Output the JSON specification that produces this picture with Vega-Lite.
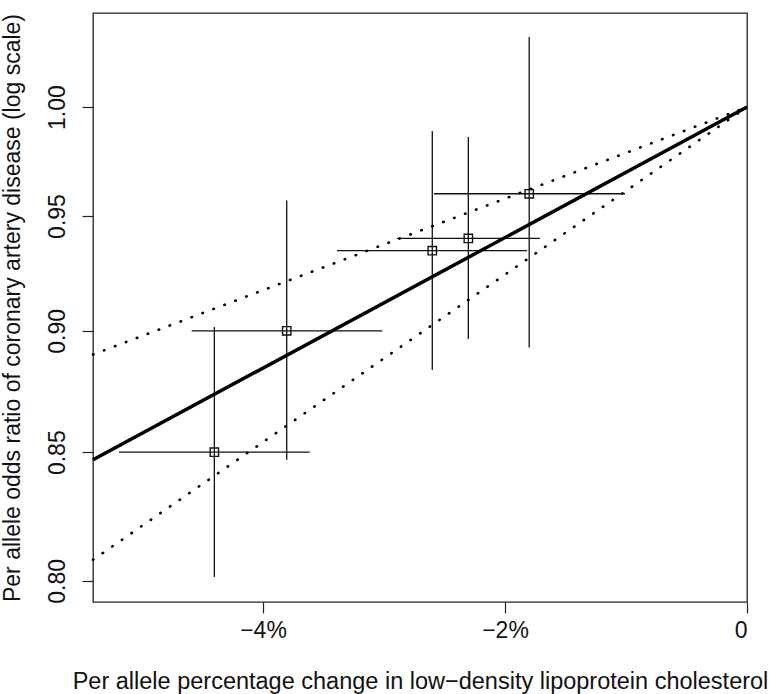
{
  "$schema": "https://vega.github.io/schema/vega-lite/v6.json",
  "width": 654,
  "height": 589,
  "autosize": "none",
  "padding": {"left": 93, "top": 13, "right": 25, "bottom": 92},
  "background": "white",
  "config": {
    "font": "Liberation Sans",
    "view": {"stroke": "#222", "strokeWidth": 1.3},
    "axis": {"grid": false, "domain": false, "tickColor": "#222", "tickWidth": 1.2, "tickSize": 11, "labelColor": "#111", "titleColor": "#111", "labelFont": "Liberation Sans", "titleFont": "Liberation Sans", "titleFontWeight": "normal"}
  },
  "datasets": {
    "studies": [
      {"x": -1.80, "xlo": -2.587, "xhi": -1.008, "or": 0.960, "orlo": 0.893, "orhi": 1.0335},
      {"x": -2.303, "xlo": -2.893, "xhi": -1.711, "or": 0.940, "orlo": 0.8965, "orhi": 0.986},
      {"x": -2.601, "xlo": -3.388, "xhi": -1.818, "or": 0.9346, "orlo": 0.8835, "orhi": 0.9888},
      {"x": -3.804, "xlo": -4.589, "xhi": -3.014, "or": 0.900, "orlo": 0.847, "orhi": 0.957},
      {"x": -4.402, "xlo": -5.19, "xhi": -3.614, "or": 0.850, "orlo": 0.8015, "orhi": 0.9016}
    ],
    "fit": [
      {"x": -5.405, "y": 0.847, "line": "estimate"},
      {"x": 0, "y": 1.0, "line": "estimate"},
      {"x": -5.405, "y": 0.890, "line": "upper"},
      {"x": 0, "y": 1.0, "line": "upper"},
      {"x": -5.405, "y": 0.808, "line": "lower"},
      {"x": 0, "y": 1.0, "line": "lower"}
    ]
  },
  "layer": [
    {
      "mark": {"type": "rule", "color": "#222", "strokeWidth": 1.3},
      "encoding": {"y": {"datum": 1, "type": "quantitative", "scale": {"type": "log"}}}
    },
    {
      "data": {"name": "studies"},
      "mark": {"type": "rule", "color": "#111", "strokeWidth": 1.3},
      "encoding": {
        "x": {"field": "xlo", "type": "quantitative"},
        "x2": {"field": "xhi"},
        "y": {"field": "or", "type": "quantitative"}
      }
    },
    {
      "data": {"name": "studies"},
      "mark": {"type": "rule", "color": "#111", "strokeWidth": 1.3},
      "encoding": {
        "x": {"field": "x", "type": "quantitative"},
        "y": {"field": "orlo", "type": "quantitative"},
        "y2": {"field": "orhi"}
      }
    },
    {
      "data": {"name": "fit"},
      "transform": [{"filter": "datum.line == 'estimate'"}],
      "mark": {"type": "line", "color": "#000", "strokeWidth": 3.5},
      "encoding": {
        "x": {"field": "x", "type": "quantitative"},
        "y": {"field": "y", "type": "quantitative"}
      }
    },
    {
      "data": {"name": "fit"},
      "transform": [{"filter": "datum.line != 'estimate'"}],
      "mark": {"type": "line", "color": "#000", "strokeWidth": 2.6, "strokeDash": [0.5, 11.2], "strokeCap": "round"},
      "encoding": {
        "x": {"field": "x", "type": "quantitative"},
        "y": {"field": "y", "type": "quantitative"},
        "detail": {"field": "line"}
      }
    },
    {
      "data": {"name": "studies"},
      "mark": {"type": "point", "shape": "square", "size": 70, "filled": false, "stroke": "#111", "strokeWidth": 1.4, "opacity": 1},
      "encoding": {
        "x": {
          "field": "x", "type": "quantitative",
          "scale": {"domain": [-5.405, 0], "nice": false, "zero": false},
          "axis": {
            "values": [-4, -2, 0],
            "labelExpr": "datum.value == 0 ? '0' : '\u2212' + abs(datum.value) + '%'",
            "labelFontSize": 23,
            "labelPadding": 6,
            "title": "Per allele percentage change in low\u2212density lipoprotein cholesterol",
            "titleFontSize": 23.5,
            "titleBaseline": "alphabetic",
            "titleY": 86
          }
        },
        "y": {
          "field": "or", "type": "quantitative",
          "scale": {"type": "log", "domain": [0.7921, 1.0453], "nice": false, "zero": false},
          "axis": {
            "values": [0.8, 0.85, 0.9, 0.95, 1.0],
            "format": ".2f",
            "labelFontSize": 23,
            "labelAngle": -90,
            "labelAlign": "center",
            "labelBaseline": "bottom",
            "labelPadding": 13,
            "title": "Per allele odds ratio of coronary artery disease (log scale)",
            "titleFontSize": 23,
            "titleAngle": -90,
            "titleBaseline": "alphabetic",
            "titleX": -74
          }
        }
      }
    }
  ]
}
